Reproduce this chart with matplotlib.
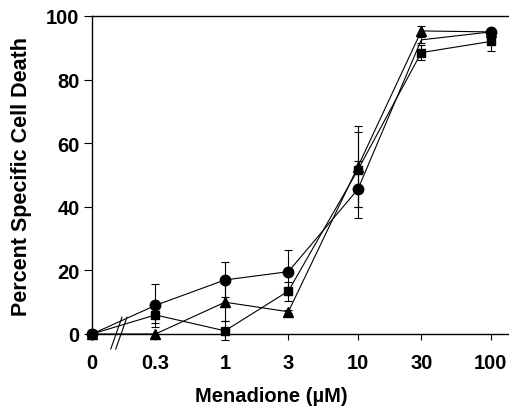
import numpy as np
import matplotlib
matplotlib.use('Agg')
import matplotlib.pyplot as plt

plt.rcParams['font.family'] = ['Liberation Sans', 'DejaVu Sans']
plt.rcParams['font.weight'] = 'bold'

# menadione concentrations (uM); 0 is drawn at the axis break position
conc = [0, 0.3, 1, 3, 10, 30, 100]
tick_labels = ['0', '0.3', '1', '3', '10', '30', '100']

circle_vals = [0, 9, 17, 19.6, 45.5, 92.5, 95]
circle_err = [0, 6.7, 5.5, 6.8, 9, 1, 0.5]
square_vals = [0, 6, 1, 13.5, 51.6, 88.5, 92]
square_err = [0, 2.5, 3, 3, 11.8, 2.3, 3]
triangle_vals = [0, 0, 10, 7, 52.6, 95.3, 95]
triangle_err = [0, 0, 6, 0.5, 12.7, 1.6, 0.5]

zero_pos = 0.1
xpos = [zero_pos if c == 0 else c for c in conc]

fig = plt.figure(figsize=(5.09, 4.10), dpi=100)
ax = fig.add_axes([92 / 509, 75 / 410, 417 / 509, 318 / 410])
ax.set_xscale('log')

# circle marker at 30 uM is not visible in the original print
series = [
    (circle_vals, circle_err, 'o', 7.5, [0, 1, 2, 3, 4, 6]),
    (square_vals, square_err, 's', 6, None),
    (triangle_vals, triangle_err, '^', 6.5, None),
]
for vals, err, mk, ms, every in series:
    ax.errorbar(xpos, vals, yerr=err, fmt='none', ecolor='black', elinewidth=0.8,
                capsize=3, capthick=0.8, clip_on=False, zorder=2)
    ax.plot(xpos, vals, color='black', lw=0.8, marker=mk, ms=ms, mfc='black',
            mec='black', markevery=every, clip_on=False, zorder=3)

ax.set_xlim(zero_pos, 137)
ax.set_ylim(0, 100)
ax.set_xticks(xpos)
ax.set_xticklabels(tick_labels)
ax.xaxis.set_minor_locator(matplotlib.ticker.NullLocator())
ax.set_yticks([0, 20, 40, 60, 80, 100])

ax.spines['right'].set_visible(False)
for s in ['left', 'bottom', 'top']:
    ax.spines[s].set_linewidth(1.0)
ax.tick_params(axis='y', direction='out', length=6, width=0.8, labelsize=14.5, pad=3)
ax.tick_params(axis='x', direction='out', length=4, width=0.8, labelsize=14.5, pad=10)

ax.set_xlabel('Menadione (\u00b5M)', fontsize=14.5, fontweight='bold')
ax.xaxis.set_label_coords(0.43, -0.163)
ax.set_ylabel('Percent Specific Cell Death', fontsize=15.5, fontweight='bold', labelpad=10)

# axis break marks
for dx in [0, 0.012]:
    ax.plot([0.045 + dx, 0.072 + dx], [-0.047, 0.053], transform=ax.transAxes,
            color='black', lw=0.8, clip_on=False)

fig.savefig('out.png', dpi=100)
